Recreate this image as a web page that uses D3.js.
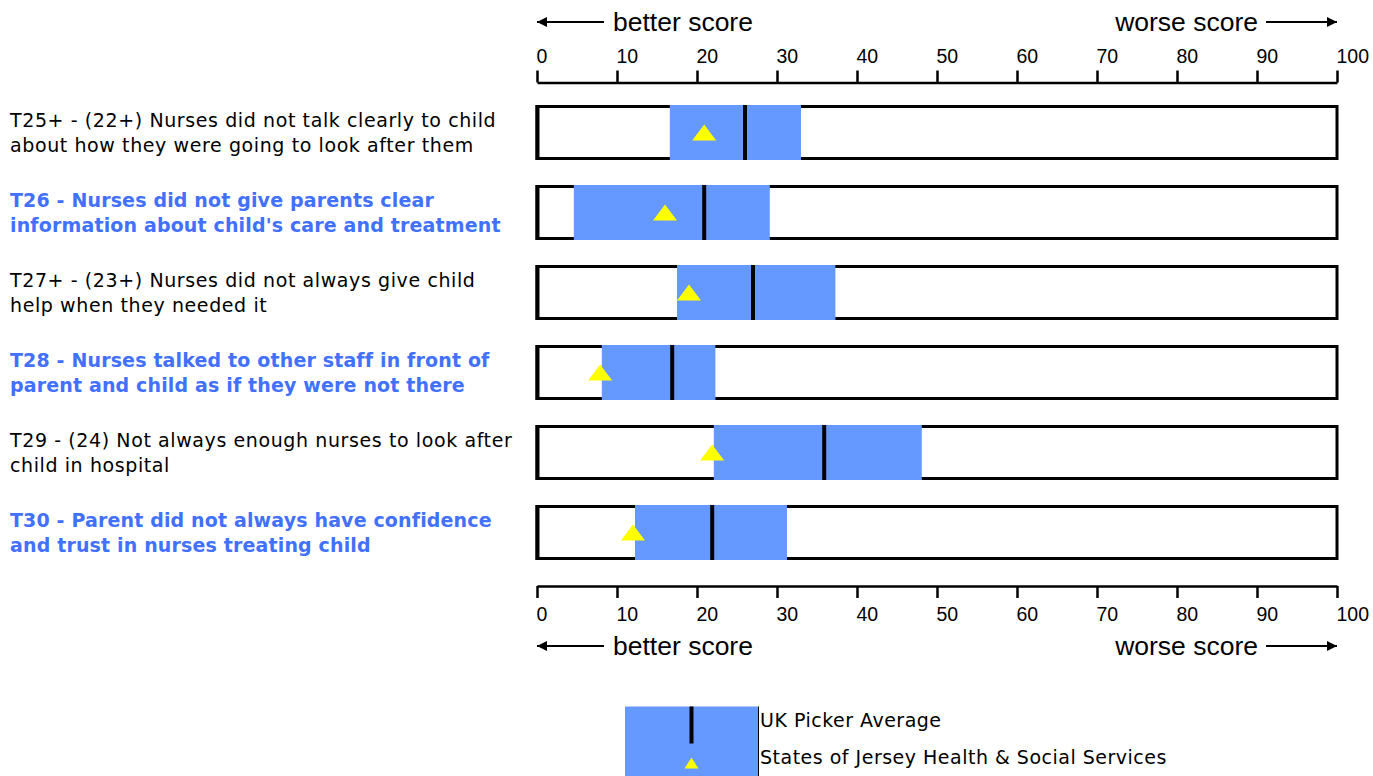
<!DOCTYPE html>
<html><head><meta charset="utf-8">
<script src="https://cdn.jsdelivr.net/npm/d3@7/dist/d3.min.js"></script>
<style>html,body{margin:0;padding:0;background:#fff;}</style>
</head><body>
<svg id="chart" width="1373" height="776"></svg>
<script>
const labelLines = [
  ["T25+ - (22+) Nurses did not talk clearly to child", "about how they were going to look after them"],
  ["T26 - Nurses did not give parents clear", "information about child's care and treatment"],
  ["T27+ - (23+) Nurses did not always give child", "help when they needed it"],
  ["T28 - Nurses talked to other staff in front of", "parent and child as if they were not there"],
  ["T29 - (24) Not always enough nurses to look after", "child in hospital"],
  ["T30 - Parent did not always have confidence", "and trust in nurses treating child"]
];
const highlighted = [false, true, false, true, false, true];
const rangeLow  = [16.6, 4.6, 17.5, 8.1, 22.1, 12.25];
const rangeHigh = [33.0, 29.1, 37.3, 22.3, 48.1, 31.25];
const ukAverage = [26.0, 20.9, 27.0, 16.9, 35.9, 21.9];
const jersey    = [20.9, 16.0, 19.0, 7.9, 21.9, 12.0];
const tickValues = [0,10,20,30,40,50,60,70,80,90,100];
const betterLabel = "better score";
const worseLabel = "worse score";
const legendLabels = ["UK Picker Average", "States of Jersey Health & Social Services"];

const svg = d3.select("#chart");
const x = d3.scaleLinear().domain([0,100]).range([537,1337]);
const rowTop = 106.5, rowStep = 80, boxH = 52;
const y = i => rowTop + i*rowStep;

const blue = "#6699ff", labelBlue = "#4270ff", yellow = "#ffff00";
const sansAxis = "'Liberation Sans', Arial, sans-serif";
const sansLab = "'DejaVu Sans', Verdana, sans-serif";

const defs = svg.append("defs");
defs.append("marker").attr("id","ah").attr("viewBox","0 0 10 10").attr("refX",10).attr("refY",5)
  .attr("markerWidth",15).attr("markerHeight",10).attr("markerUnits","userSpaceOnUse").attr("orient","auto")
  .append("path").attr("d","M0,0L10,5L0,10Z").attr("fill","#000");

function axisGroup(isTop){
  const ay = isTop ? 82.5 : 586;
  const ax = isTop ? d3.axisTop(x) : d3.axisBottom(x);
  ax.tickValues(tickValues).tickSize(12).tickSizeOuter(0).tickFormat(d3.format("d"));
  const g = svg.append("g").attr("transform",`translate(0,${ay})`).call(ax);
  g.select(".domain").attr("stroke","#000").attr("stroke-width",2.5);
  g.selectAll(".tick line").attr("stroke","#000").attr("stroke-width",2.5);
  g.selectAll(".tick text").attr("fill","#000").attr("font-family",sansAxis).attr("font-size",19.5)
    .attr("text-anchor","start").attr("x",-1).attr("dy",null)
    .attr("y", isTop ? -20 : 35);
  const arY = isTop ? 22 : 646;
  svg.append("line").attr("x1",604).attr("x2",537).attr("y1",arY).attr("y2",arY)
    .attr("stroke","#000").attr("stroke-width",2).attr("marker-end","url(#ah)");
  svg.append("line").attr("x1",1266).attr("x2",1337).attr("y1",arY).attr("y2",arY)
    .attr("stroke","#000").attr("stroke-width",2).attr("marker-end","url(#ah)");
  svg.append("text").attr("x",613).attr("y",arY+9).attr("font-family",sansAxis).attr("font-size",26.5)
    .attr("fill","#000").text(betterLabel);
  svg.append("text").attr("x",1258).attr("y",arY+9).attr("text-anchor","end").attr("font-family",sansAxis).attr("font-size",26.5)
    .attr("fill","#000").text(worseLabel);
}
axisGroup(true);
axisGroup(false);

const rows = svg.append("g").selectAll("g.row").data(d3.range(labelLines.length)).join("g").attr("class","row");
rows.append("rect").attr("x",x(0)).attr("y",i=>y(i)).attr("width",x(100)-x(0)).attr("height",boxH)
  .attr("fill","#fff").attr("stroke","#000").attr("stroke-width",3);
rows.append("line").attr("x1",x(0)+0.5).attr("x2",x(0)+0.5).attr("y1",i=>y(i)-1.5).attr("y2",i=>y(i)+boxH+1.5)
  .attr("stroke","#000").attr("stroke-width",4);
rows.append("rect").attr("x",i=>x(rangeLow[i])).attr("y",i=>y(i)-1.5)
  .attr("width",i=>x(rangeHigh[i])-x(rangeLow[i])).attr("height",boxH+3).attr("fill",blue);
rows.append("line").attr("x1",i=>x(ukAverage[i])).attr("x2",i=>x(ukAverage[i]))
  .attr("y1",i=>y(i)-1.5).attr("y2",i=>y(i)+boxH+1.5).attr("stroke","#000").attr("stroke-width",4);
rows.append("path").attr("d",i=>{
  const cx=x(jersey[i]), cy=y(i)+boxH/2;
  return `M${cx-12},${cy+8}L${cx+12},${cy+8}L${cx},${cy-8}Z`;
}).attr("fill",yellow);

const lab = rows.append("text").attr("font-family",sansLab).attr("font-size",19)
  .attr("letter-spacing",i=>highlighted[i]?0.15:0.6)
  .attr("fill",i=>highlighted[i]?labelBlue:"#000").attr("font-weight",i=>highlighted[i]?"bold":"normal");
lab.selectAll("tspan").data(i=>labelLines[i].map((t,k)=>({t,k,i}))).join("tspan")
  .attr("x",10).attr("y",d=>y(d.i)+boxH/2-12.5+6.5+25*d.k).text(d=>d.t);

const lg = svg.append("g");
lg.append("rect").attr("x",625).attr("y",706.5).attr("width",133).attr("height",70).attr("fill",blue);
lg.append("line").attr("x1",758.5).attr("x2",758.5).attr("y1",706.5).attr("y2",776).attr("stroke","#000").attr("stroke-width",1);
lg.append("line").attr("x1",691.5).attr("x2",691.5).attr("y1",706.5).attr("y2",743.5).attr("stroke","#000").attr("stroke-width",4);
lg.append("path").attr("d","M684.5,768.5L698.5,768.5L691.5,757.5Z").attr("fill",yellow);
lg.selectAll("text.leg").data(legendLabels).join("text").attr("class","leg")
  .attr("x",760).attr("y",(d,i)=>726.5+37*i).attr("font-family",sansLab).attr("font-size",19)
  .attr("letter-spacing",0.5).attr("fill","#000").text(d=>d);
</script>
</body></html>
